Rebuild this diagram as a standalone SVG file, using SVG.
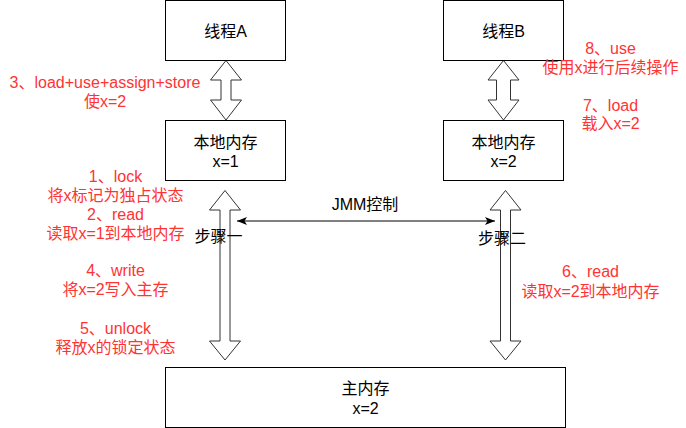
<svg xmlns="http://www.w3.org/2000/svg" width="686" height="428" viewBox="0 0 686 428">
  <style>
    text { font-family: "Liberation Sans", "Noto Sans CJK SC", sans-serif; font-size: 16px; text-anchor: middle; }
    .box { fill: #ffffff; stroke: #000000; stroke-width: 1; }
    .flex { fill: #ffffff; stroke: #333333; stroke-width: 1; stroke-linejoin: miter; }
    .dark { fill: #000000; }
    .note { fill: #ff3333; }
    .link { stroke: #000000; stroke-width: 1; fill: none; }
  </style>
  <defs>
    <marker id="classic" viewBox="0 0 10 8" refX="10" refY="4" markerWidth="10" markerHeight="8" markerUnits="userSpaceOnUse" orient="auto-start-reverse">
      <path d="M10,4 L0,0 L2.5,4 L0,8 Z" fill="#000000"/>
    </marker>
  </defs>

  <rect width="686" height="428" fill="#ffffff"/>

  <!-- connectors: wide double arrows and the JMM control line -->
  <g id="connectors">
    <path class="flex" d="M226,60.5 L241.5,80 L231,80 L231,100 L241.5,100 L226,120 L210.5,100 L221,100 L221,80 L210.5,80 Z"/>
    <path class="flex" d="M503.5,60.5 L519,80 L510.5,80 L510.5,100 L519,100 L503.5,120 L488,100 L496.5,100 L496.5,80 L488,80 Z"/>
    <path class="flex" d="M225,190.5 L240.5,210 L230,210 L230,341 L240.5,341 L225,360 L209.5,341 L220,341 L220,210 L209.5,210 Z"/>
    <path class="flex" d="M505.5,190.5 L521,210 L510.5,210 L510.5,341 L521,341 L505.5,360 L490,341 L500.5,341 L500.5,210 L490,210 Z"/>
    <line class="link" x1="237" y1="221" x2="495" y2="221" marker-start="url(#classic)" marker-end="url(#classic)"/>
    <text class="dark" x="365" y="210">JMM控制</text>
    <text class="dark" x="218.5" y="241.5">步骤一</text>
    <text class="dark" x="502" y="244">步骤二</text>
  </g>

  <!-- thread A -->
  <g id="threadA">
    <rect class="box" x="165.5" y="0.5" width="120" height="60"/>
    <text class="dark" x="225.5" y="37">线程A</text>
  </g>

  <!-- working memory of thread A -->
  <g id="localA">
    <rect class="box" x="165.5" y="120.5" width="120" height="60"/>
    <text class="dark" x="225.5" y="147.5">本地内存</text>
    <text class="dark" x="225.5" y="166.5">x=1</text>
  </g>

  <!-- thread B -->
  <g id="threadB">
    <rect class="box" x="443.5" y="0.5" width="120" height="60"/>
    <text class="dark" x="503.5" y="37">线程B</text>
  </g>

  <!-- working memory of thread B -->
  <g id="localB">
    <rect class="box" x="443.5" y="120.5" width="120" height="60"/>
    <text class="dark" x="503.5" y="147.5">本地内存</text>
    <text class="dark" x="503.5" y="166.5">x=2</text>
  </g>

  <!-- main memory -->
  <g id="mainMemory">
    <rect class="box" x="165.5" y="367.5" width="400" height="60"/>
    <text class="dark" x="365.5" y="394">主内存</text>
    <text class="dark" x="365.5" y="413.5">x=2</text>
  </g>

  <!-- operation notes -->
  <g id="notes">
    <text class="note" x="105" y="87.5">3、load+use+assign+store</text>
    <text class="note" x="105" y="106.5">使x=2</text>

    <text class="note" x="115.5" y="181.5">1、lock</text>
    <text class="note" x="115.5" y="201">将x标记为独占状态</text>
    <text class="note" x="115.5" y="219.5">2、read</text>
    <text class="note" x="115.5" y="238.5">读取x=1到本地内存</text>

    <text class="note" x="115.5" y="276">4、write</text>
    <text class="note" x="115.5" y="295">将x=2写入主存</text>

    <text class="note" x="115.5" y="333.5">5、unlock</text>
    <text class="note" x="115.5" y="352.5">释放x的锁定状态</text>

    <text class="note" x="610.5" y="53.5">8、use</text>
    <text class="note" x="610.5" y="72.5">使用x进行后续操作</text>

    <text class="note" x="610.5" y="110.5">7、load</text>
    <text class="note" x="610.5" y="129">载入x=2</text>

    <text class="note" x="590.5" y="277">6、read</text>
    <text class="note" x="590.5" y="296.5">读取x=2到本地内存</text>
  </g>
</svg>
